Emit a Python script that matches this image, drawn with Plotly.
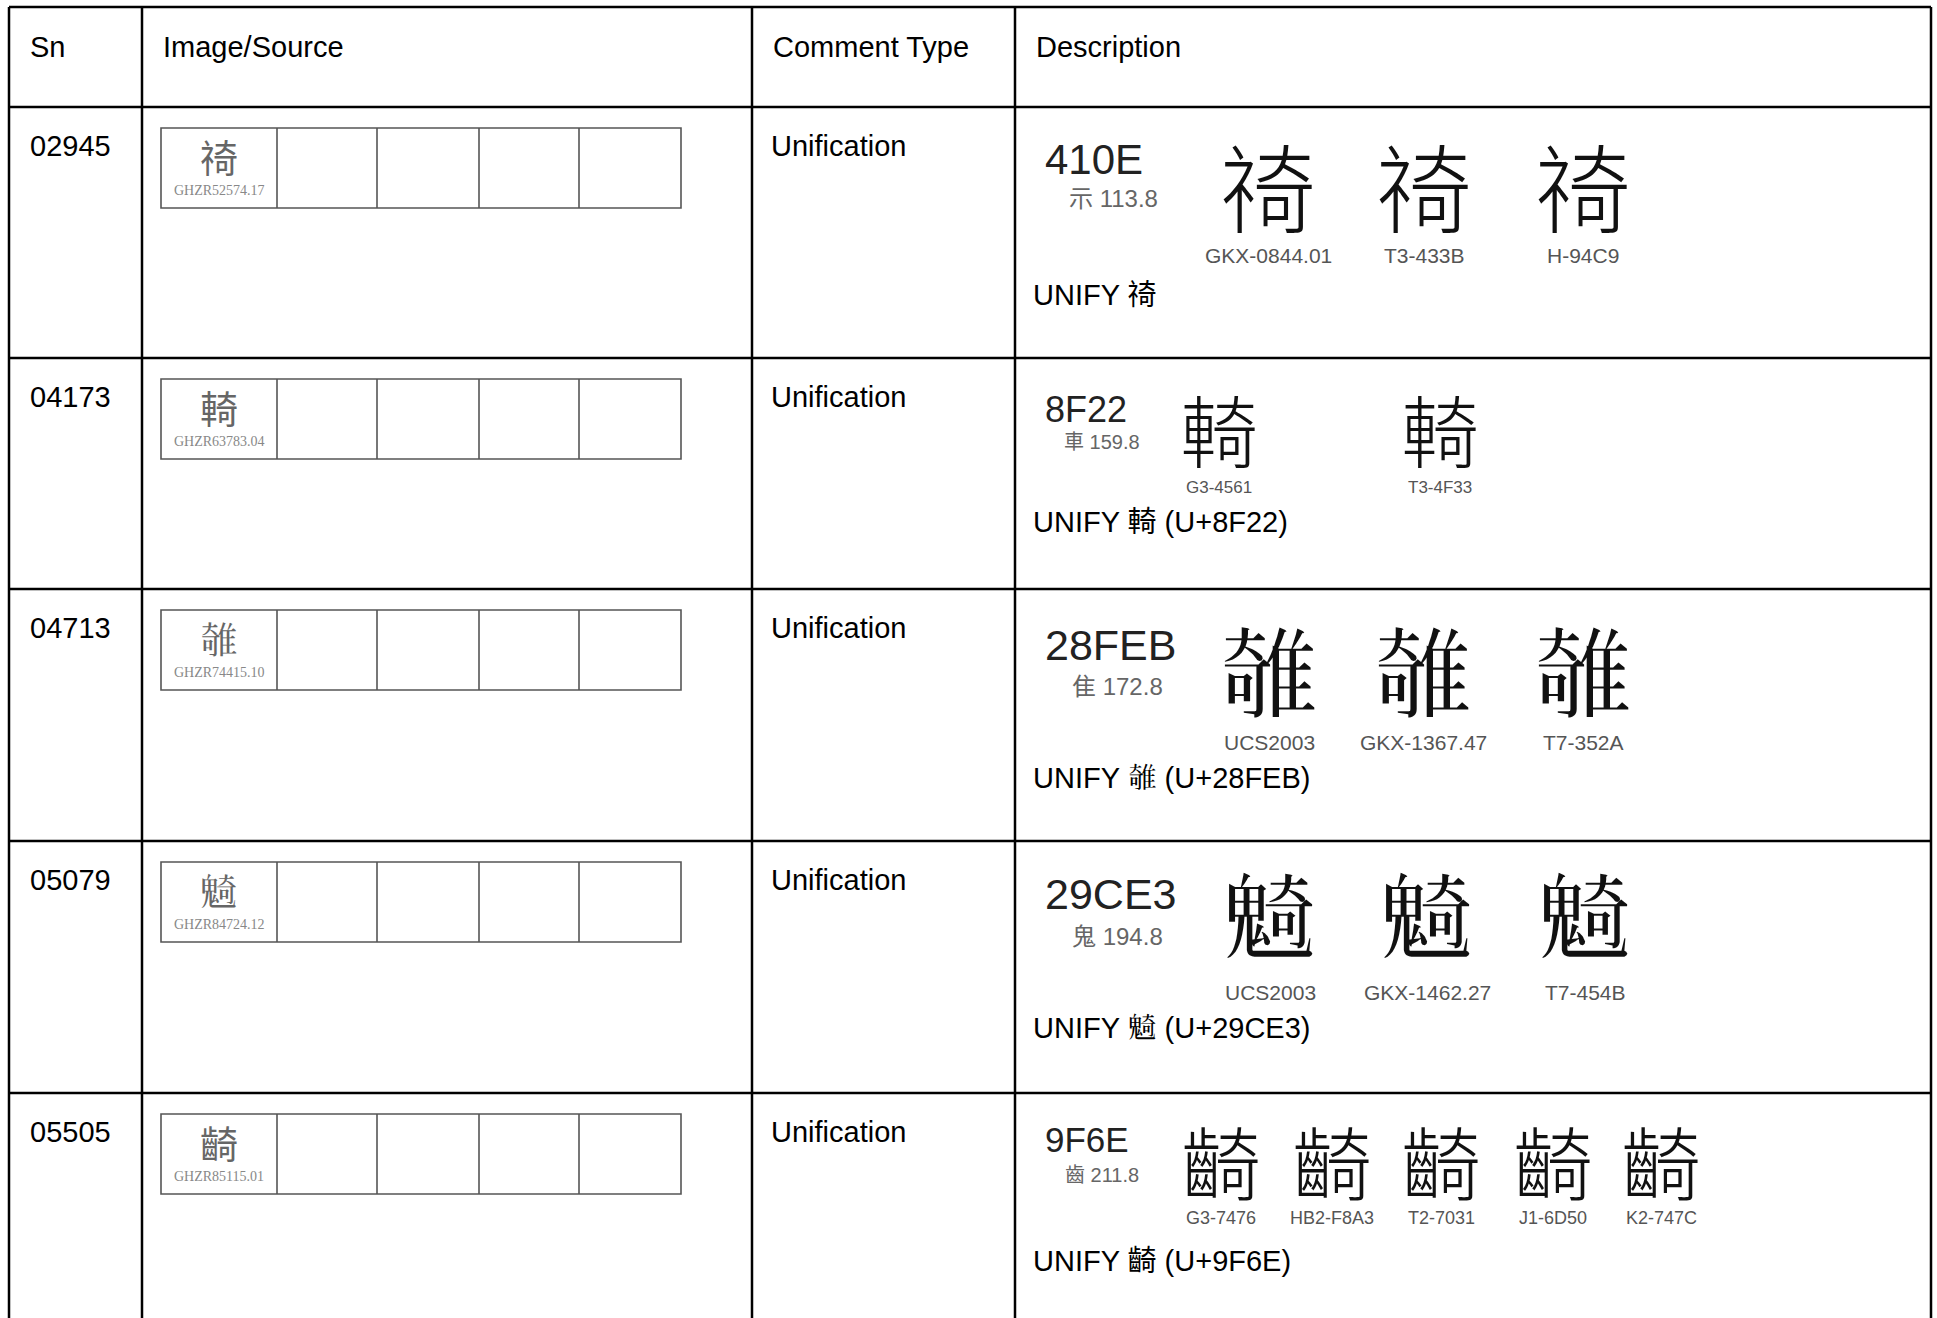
import plotly.graph_objects as go

# ---------------- data ----------------
headers = ["Sn", "Image/Source", "Comment Type", "Description"]
sn = ["02945", "04173", "04713", "05079", "05505"]
source_glyphs = ["\u410e", "\u8f22", "\U00028feb", "\U00029ce3", "\u9f6e"]
source_ids = ["GHZR52574.17", "GHZR63783.04", "GHZR74415.10", "GHZR84724.12", "GHZR85115.01"]
comment_types = ["Unification", "Unification", "Unification", "Unification", "Unification"]
codepoints = ["410E", "8F22", "28FEB", "29CE3", "9F6E"]
radicals = ["示 113.8", "車 159.8", "隹 172.8", "鬼 194.8", "齒 211.8"]
glyph_sources = [
    ["GKX-0844.01", "T3-433B", "H-94C9"],
    ["G3-4561", "T3-4F33"],
    ["UCS2003", "GKX-1367.47", "T7-352A"],
    ["UCS2003", "GKX-1462.27", "T7-454B"],
    ["G3-7476", "HB2-F8A3", "T2-7031", "J1-6D50", "K2-747C"],
]
descriptions = [
    "UNIFY \u410e",
    "UNIFY \u8f22 (U+8F22)",
    "UNIFY \U00028feb (U+28FEB)",
    "UNIFY \U00029ce3 (U+29CE3)",
    "UNIFY \u9f6e (U+9F6E)",
]

# ---------------- layout (pixel geometry of the table) ----------------
W, H = 1937, 1318
col_x = [9, 142, 752, 1015, 1931]
row_lines = [7, 107, 358, 589, 841, 1093]
box_x = [161, 277, 377, 479, 579, 681]
box_dy, box_h = 21, 80
pad = 1  # side-bearing compensation for left-anchored text

code_dy = [52, 51, 56, 53, 46]
code_size = [42, 36, 43, 43, 35]
rad_x = [1070, 1065, 1073, 1073, 1066]
rad_dy = [91, 84, 97, 95, 82]
rad_size = [24, 20, 24, 24, 20]
glyph_dy = [81, 74, 84, 76, 71]
glyph_size = [96, 78, 100, 95, 80]
glyph_x = [
    [1268, 1424, 1583],
    [1219, 1440],
    [1269, 1423, 1583],
    [1270, 1427, 1585],
    [1221, 1332, 1441, 1553, 1661],
]
label_dy = [148, 129, 153, 151, 125]
label_size = [21, 17, 21, 21, 18]
unify_dy = [188, 164, 189, 187, 168]

SANS = "Liberation Sans, Arial, Noto Sans CJK TC, Noto Sans CJK SC, sans-serif"
# Latin font first so the line box stays compact; ideographs fall back to Noto Sans CJK
GLYPH = "Liberation Sans, Noto Sans CJK TC, Noto Sans CJK SC, Noto Sans CJK JP, sans-serif"
CJK = "Noto Sans CJK TC, Noto Sans CJK SC, Noto Sans CJK JP, sans-serif"
SERIF = "Liberation Serif, DejaVu Serif, serif"
BODY = 29

fig = go.Figure()
shapes = []
ann = []


def text(x, y, s, size, family=SANS, color="#000", xanchor="left", weight=None):
    font = dict(size=size, family=family, color=color)
    if weight:
        font["weight"] = weight
    ann.append(dict(x=x - (pad if xanchor == "left" else 0), y=y, xref="x", yref="y",
                    text=s, showarrow=False, xanchor=xanchor, yanchor="middle",
                    font=font, borderpad=0, borderwidth=0))


# table lines
for y in row_lines:
    shapes.append(dict(type="line", xref="x", yref="y", x0=col_x[0], x1=col_x[-1],
                       y0=y, y1=y, line=dict(color="#000", width=2.5)))
for x in col_x:
    shapes.append(dict(type="line", xref="x", yref="y", x0=x, x1=x,
                       y0=row_lines[0], y1=H + 10, line=dict(color="#000", width=2.5)))

# header
for i, h in enumerate(headers):
    text(col_x[i] + 22, row_lines[0] + 40, h, BODY)

row_tops = row_lines[1:]
for r, top in enumerate(row_tops):
    # Sn and comment type
    text(col_x[0] + 22, top + 39, sn[r], BODY)
    text(col_x[2] + 20, top + 39, comment_types[r], BODY)

    # image/source boxes
    by0, by1 = top + box_dy, top + box_dy + box_h
    shapes.append(dict(type="rect", xref="x", yref="y", x0=box_x[0], x1=box_x[-1],
                       y0=by0, y1=by1, line=dict(color="#555", width=1.6)))
    for bx in box_x[1:-1]:
        shapes.append(dict(type="line", xref="x", yref="y", x0=bx, x1=bx,
                           y0=by0, y1=by1, line=dict(color="#555", width=1.6)))
    cx = (box_x[0] + box_x[1]) / 2
    text(cx, by0 + 27, source_glyphs[r], 38, family=CJK, color="#666", xanchor="center")
    text(cx, by0 + 62, source_ids[r], 14, family=SERIF, color="#888", xanchor="center")

    # description
    text(col_x[3] + 31, top + code_dy[r], codepoints[r], code_size[r], color="#222")
    text(rad_x[r], top + rad_dy[r], radicals[r], rad_size[r], color="#666")
    gs = glyph_size[r]
    for gx, lab in zip(glyph_x[r], glyph_sources[r]):
        text(gx, top + glyph_dy[r] + 0.034 * gs, source_glyphs[r], gs, family=GLYPH,
             color="#111", xanchor="center", weight=300)
        text(gx, top + label_dy[r], lab, label_size[r], color="#555", xanchor="center")
    text(col_x[3] + 19, top + unify_dy[r], descriptions[r], BODY)

fig.update_layout(
    width=W, height=H,
    margin=dict(l=0, r=0, t=0, b=0),
    paper_bgcolor="white", plot_bgcolor="white",
    xaxis=dict(range=[0, W], visible=False, fixedrange=True),
    yaxis=dict(range=[H, 0], visible=False, fixedrange=True),
    shapes=shapes, annotations=ann, showlegend=False,
)

fig.write_html("out.html", config={"displayModeBar": False},
               post_script="document.body.style.margin='0';")
